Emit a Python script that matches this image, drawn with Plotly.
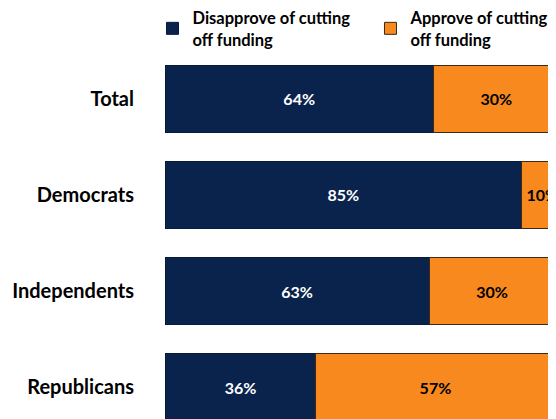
import plotly.graph_objects as go

categories = ["Total", "Democrats", "Independents", "Republicans"]
disapprove = [64, 85, 63, 36]
approve = [30, 10, 30, 57]
series_names = ["Disapprove of cutting<br>off funding", "Approve of cutting<br>off funding"]

NAVY = "#0A234D"
ORANGE = "#F7891F"
FONT = "Lato"

fig = go.Figure()
fig.add_trace(go.Bar(
    y=categories, x=disapprove, orientation="h", name=series_names[0],
    marker=dict(color=NAVY, line=dict(color="#061a3a", width=1)),
    text=[f"{v}%" for v in disapprove], textposition="inside",
    insidetextanchor="middle", textangle=0,
    textfont=dict(family=FONT, size=16, color="white", weight="bold"),
))
fig.add_trace(go.Bar(
    y=categories, x=approve, orientation="h", name=series_names[1],
    marker=dict(color=ORANGE, line=dict(color="#3a2a1a", width=1)),
    text=[f"{v}%" for v in approve], textposition="inside",
    insidetextanchor="middle", textangle=0, constraintext="none",
    textfont=dict(family=FONT, size=16, color="black", weight="bold"),
))

# page body has an 8px margin, so the figure is sized to fill the rest of the window
fig.update_layout(
    width=548, height=411,
    barmode="stack", bargap=0.30,
    margin=dict(l=157, r=0, t=52, b=0, autoexpand=False),
    paper_bgcolor="white", plot_bgcolor="white",
    font=dict(family=FONT, size=16, color="black"),
    showlegend=True,
    legend=dict(
        orientation="h", x=-0.032, xanchor="left", y=1.166, yanchor="top",
        traceorder="normal",
        font=dict(family=FONT, size=16.5, color="black", weight="bold"),
        entrywidth=173, entrywidthmode="pixels",
        valign="middle", itemclick=False,
    ),
    xaxis=dict(range=[0, 93.25], visible=False, fixedrange=True),
    yaxis=dict(
        categoryorder="array", categoryarray=categories,
        range=[3.333, -0.406], showgrid=False, zeroline=False, showline=False,
        ticks="", ticklabelstandoff=30,
        tickfont=dict(family=FONT, size=20, color="black", weight="bold"),
    ),
    uniformtext=dict(mode=False),
)

fig.write_html("out.html")
